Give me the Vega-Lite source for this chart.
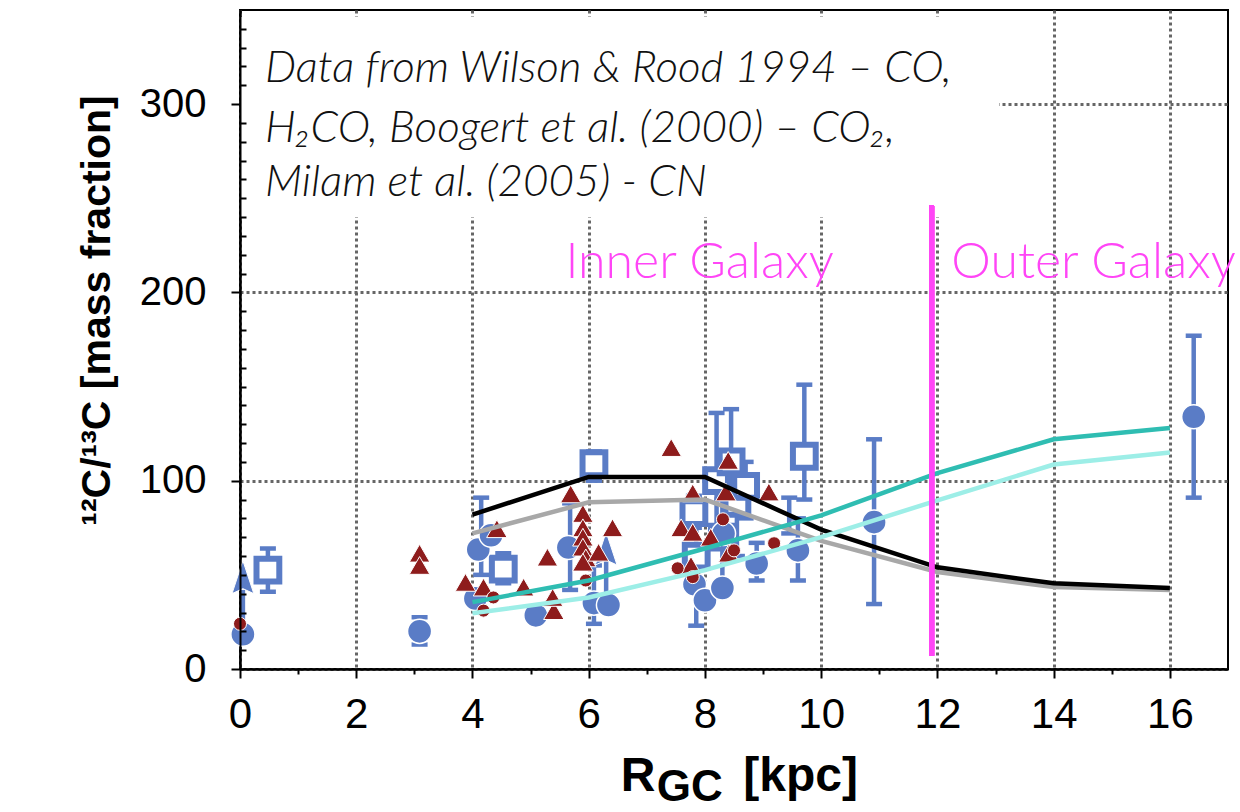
{
  "$schema": "https://vega.github.io/schema/vega-lite/v6.json",
  "width": 988,
  "height": 659,
  "autosize": "none",
  "padding": {"left": 240, "top": 10, "right": 12, "bottom": 143},
  "background": "white",
  "config": {"view": {"stroke": "#000", "strokeWidth": 2}},
  "datasets": {
    "circles": [
      {"x": 0.05, "y": 18.5}, {"x": 3.09, "y": 20}, {"x": 4.1, "y": 63.5}, {"x": 4.05, "y": 37.5},
      {"x": 4.32, "y": 71}, {"x": 5.09, "y": 28.5}, {"x": 5.65, "y": 64.5}, {"x": 6.09, "y": 35},
      {"x": 6.34, "y": 34}, {"x": 7.82, "y": 45}, {"x": 8.0, "y": 36.5}, {"x": 8.3, "y": 43},
      {"x": 8.32, "y": 72}, {"x": 8.89, "y": 56}, {"x": 9.6, "y": 63}, {"x": 10.91, "y": 78},
      {"x": 16.41, "y": 134}
    ],
    "squares": [
      {"x": 0.48, "y": 52.5}, {"x": 4.53, "y": 53}, {"x": 6.09, "y": 109}, {"x": 7.81, "y": 83},
      {"x": 7.85, "y": 60}, {"x": 8.2, "y": 100}, {"x": 8.45, "y": 110}, {"x": 8.55, "y": 88},
      {"x": 8.7, "y": 97}, {"x": 8.3, "y": 70}, {"x": 9.71, "y": 113}
    ],
    "errors": [
      {"x": 0.48, "lo": 41, "hi": 64}, {"x": 4.53, "lo": 45.5, "hi": 61.5}, {"x": 6.09, "lo": 100, "hi": 115.5},
      {"x": 7.81, "lo": 75, "hi": 92}, {"x": 7.85, "lo": 23, "hi": 80}, {"x": 8.2, "lo": 75, "hi": 136},
      {"x": 8.45, "lo": 85, "hi": 138}, {"x": 8.55, "lo": 60, "hi": 105}, {"x": 8.7, "lo": 80, "hi": 110},
      {"x": 8.3, "lo": 45, "hi": 90}, {"x": 9.71, "lo": 90, "hi": 151},
      {"x": 3.09, "lo": 13, "hi": 27.5}, {"x": 4.15, "lo": 50, "hi": 91}, {"x": 5.68, "lo": 42, "hi": 88},
      {"x": 6.09, "lo": 24, "hi": 55}, {"x": 8.89, "lo": 47, "hi": 67}, {"x": 9.45, "lo": 72, "hi": 91},
      {"x": 9.6, "lo": 47, "hi": 80}, {"x": 10.91, "lo": 34.5, "hi": 122}, {"x": 16.41, "lo": 91, "hi": 177}
    ],
    "arrows": [
      {"x": 0.05, "y": 48.8, "lo": 24, "hi": 42}, {"x": 6.3, "y": 64, "lo": 40, "hi": 58}
    ],
    "triangles": [
      {"x": 3.09, "y": 61.5}, {"x": 3.09, "y": 55}, {"x": 3.88, "y": 46}, {"x": 4.19, "y": 43.5},
      {"x": 4.42, "y": 74.5}, {"x": 4.88, "y": 43.5}, {"x": 5.29, "y": 59.4}, {"x": 5.4, "y": 31},
      {"x": 5.38, "y": 38}, {"x": 5.69, "y": 93}, {"x": 5.9, "y": 82.6}, {"x": 5.9, "y": 75},
      {"x": 5.9, "y": 70}, {"x": 5.9, "y": 64.7}, {"x": 5.95, "y": 59}, {"x": 5.9, "y": 56.7},
      {"x": 6.17, "y": 62}, {"x": 6.41, "y": 75}, {"x": 7.42, "y": 117.6}, {"x": 7.59, "y": 75},
      {"x": 7.79, "y": 72.6}, {"x": 8.1, "y": 70}, {"x": 8.41, "y": 61.5}, {"x": 7.76, "y": 55},
      {"x": 7.79, "y": 93.5}, {"x": 8.4, "y": 110.8}, {"x": 8.36, "y": 94}, {"x": 9.1, "y": 94}
    ],
    "dots": [
      {"x": 0.0, "y": 24}, {"x": 4.19, "y": 31}, {"x": 4.36, "y": 38}, {"x": 5.95, "y": 47},
      {"x": 7.53, "y": 53.5}, {"x": 7.79, "y": 48.8}, {"x": 8.31, "y": 79.5}, {"x": 8.5, "y": 63},
      {"x": 9.19, "y": 66.8}
    ],
    "models": [
      {"m": "grey", "x": 4, "y": 72}, {"m": "grey", "x": 6, "y": 88.5}, {"m": "grey", "x": 8, "y": 90},
      {"m": "grey", "x": 10, "y": 68}, {"m": "grey", "x": 12, "y": 51.5}, {"m": "grey", "x": 14, "y": 43.5},
      {"m": "grey", "x": 16, "y": 42},
      {"m": "black", "x": 4, "y": 82}, {"m": "black", "x": 6, "y": 102}, {"m": "black", "x": 8, "y": 102},
      {"m": "black", "x": 10, "y": 74}, {"m": "black", "x": 12, "y": 54}, {"m": "black", "x": 14, "y": 45.5},
      {"m": "black", "x": 16, "y": 43},
      {"m": "teal", "x": 4, "y": 35.5}, {"m": "teal", "x": 6, "y": 47}, {"m": "teal", "x": 8, "y": 64},
      {"m": "teal", "x": 10, "y": 81.6}, {"m": "teal", "x": 12, "y": 104}, {"m": "teal", "x": 14, "y": 122},
      {"m": "teal", "x": 16, "y": 128},
      {"m": "cyan", "x": 4, "y": 29.6}, {"m": "cyan", "x": 6, "y": 38}, {"m": "cyan", "x": 8, "y": 52.5},
      {"m": "cyan", "x": 10, "y": 70}, {"m": "cyan", "x": 12, "y": 89.6}, {"m": "cyan", "x": 14, "y": 108.6},
      {"m": "cyan", "x": 16, "y": 115}
    ],
    "notes": [
      {"t": "Data from Wilson & Rood 1994 – CO,", "x": 0.43, "y": 312},
      {"t": "H₂CO, Boogert et al. (2000) – CO₂,", "x": 0.43, "y": 280},
      {"t": "Milam et al. (2005) - CN", "x": 0.43, "y": 251}
    ],
    "regions": [
      {"t": "Inner Galaxy", "x": 5.6, "y": 207.5},
      {"t": "Outer Galaxy", "x": 12.24, "y": 207.5}
    ],
    "xtitle": [
      {"t": "R", "x": 6.55, "y": -65, "s": "big"},
      {"t": "GC", "x": 7.17, "y": -70, "s": "small"},
      {"t": "[kpc]", "x": 8.66, "y": -65, "s": "big"}
    ]
  },
  "resolve": {"axis": {"x": "independent", "y": "independent"}},
  "layer": [
    {
      "layer": [
        {
          "data": {"name": "circles"},
          "mark": {"type": "rect", "fill": "white", "stroke": null},
          "encoding": {
            "x": {"datum": 0.02, "type": "quantitative", "scale": {"domain": [0, 17], "nice": false, "zero": false}},
            "x2": {"datum": 13.05},
            "y": {"datum": 240, "type": "quantitative", "scale": {"domain": [0, 350], "nice": false, "zero": false}},
            "y2": {"datum": 346}
          }
        },
        {
          "data": {"name": "errors"},
          "mark": {"type": "rule", "color": "#5a7cc6", "strokeWidth": 4.5},
          "encoding": {
            "x": {"field": "x", "type": "quantitative"},
            "y": {"field": "lo", "type": "quantitative"},
            "y2": {"field": "hi"}
          }
        },
        {
          "data": {"name": "errors"},
          "mark": {"type": "tick", "orient": "horizontal", "color": "#5a7cc6", "size": 16, "thickness": 4.5, "opacity": 1},
          "encoding": {
            "x": {"field": "x", "type": "quantitative"},
            "y": {"field": "lo", "type": "quantitative"}
          }
        },
        {
          "data": {"name": "errors"},
          "mark": {"type": "tick", "orient": "horizontal", "color": "#5a7cc6", "size": 16, "thickness": 4.5, "opacity": 1},
          "encoding": {
            "x": {"field": "x", "type": "quantitative"},
            "y": {"field": "hi", "type": "quantitative"}
          }
        },
        {
          "data": {"name": "arrows"},
          "mark": {"type": "rule", "color": "#5a7cc6", "strokeWidth": 4.5},
          "encoding": {
            "x": {"field": "x", "type": "quantitative"},
            "y": {"field": "lo", "type": "quantitative"},
            "y2": {"field": "hi"}
          }
        },
        {
          "data": {"name": "arrows"},
          "mark": {"type": "point", "shape": "M0,-1L0.66,1L0,0.7L-0.66,1Z", "filled": true, "fill": "#5a7cc6", "stroke": "white", "strokeWidth": 1, "size": 1089, "opacity": 1},
          "encoding": {
            "x": {"field": "x", "type": "quantitative"},
            "y": {"field": "y", "type": "quantitative"}
          }
        },
        {
          "data": {"name": "squares"},
          "mark": {"type": "point", "shape": "square", "filled": false, "fill": "white", "stroke": "#5a7cc6", "strokeWidth": 6, "size": 520, "opacity": 1},
          "encoding": {
            "x": {"field": "x", "type": "quantitative"},
            "y": {"field": "y", "type": "quantitative"}
          }
        },
        {
          "data": {"name": "circles"},
          "mark": {"type": "point", "shape": "circle", "filled": true, "fill": "#5a7cc6", "stroke": "white", "strokeWidth": 1.5, "size": 580, "opacity": 1},
          "encoding": {
            "x": {"field": "x", "type": "quantitative",
              "axis": {"values": [0, 2, 4, 6, 8, 10, 12, 14, 16], "title": null, "grid": true, "gridColor": "#666666", "gridDash": [3, 3], "gridWidth": 3, "gridOpacity": 1, "domain": true, "domainColor": "#000", "domainWidth": 2, "ticks": true, "tickColor": "#000", "tickWidth": 2, "tickSize": 9, "labelFont": "Liberation Sans", "labelFontSize": 42, "labelColor": "#000", "labelPadding": 16, "labelFlush": false, "labelOverlap": false, "format": "d"}},
            "y": {"field": "y", "type": "quantitative",
              "axis": {"values": [0, 100, 200, 300], "title": "¹²C/¹³C [mass fraction]", "titleFont": "Liberation Sans", "titleFontWeight": "bold", "titleFontSize": 41, "titleColor": "#000", "titleAngle": -90, "titleX": -143, "titleY": 300, "titleAlign": "center", "titleBaseline": "middle", "grid": true, "gridColor": "#666666", "gridDash": [3, 3], "gridWidth": 3, "gridOpacity": 1, "domain": true, "domainColor": "#000", "domainWidth": 2, "ticks": true, "tickColor": "#000", "tickWidth": 2, "tickSize": 9, "labelFont": "Liberation Sans", "labelFontSize": 40, "labelColor": "#000", "labelPadding": 25, "labelOverlap": false, "labelFlush": false, "format": "d"}}
          }
        },
        {
          "data": {"name": "triangles"},
          "mark": {"type": "point", "shape": "triangle-up", "filled": true, "fill": "#8e1c1c", "stroke": "white", "strokeWidth": 1, "size": 420, "opacity": 1},
          "encoding": {
            "x": {"field": "x", "type": "quantitative"},
            "y": {"field": "y", "type": "quantitative"}
          }
        },
        {
          "data": {"name": "dots"},
          "mark": {"type": "point", "shape": "circle", "filled": true, "fill": "#8e1c1c", "stroke": "white", "strokeWidth": 1, "size": 170, "opacity": 1},
          "encoding": {
            "x": {"field": "x", "type": "quantitative"},
            "y": {"field": "y", "type": "quantitative"}
          }
        },
        {
          "data": {"name": "models"},
          "mark": {"type": "line", "strokeWidth": 4.5},
          "encoding": {
            "x": {"field": "x", "type": "quantitative"},
            "y": {"field": "y", "type": "quantitative"},
            "color": {"field": "m", "type": "nominal", "scale": {"domain": ["grey", "black", "cyan", "teal"], "range": ["#a8a8a8", "#000000", "#9deee7", "#2fbdb2"]}, "legend": null}
          }
        },
        {
          "data": {"name": "circles"},
          "mark": {"type": "rule", "color": "#ff45f6", "strokeWidth": 5},
          "encoding": {
            "x": {"datum": 11.9, "type": "quantitative"},
            "y": {"datum": 7, "type": "quantitative"},
            "y2": {"datum": 246}
          }
        },
        {
          "data": {"name": "notes"},
          "mark": {"type": "text", "align": "left", "baseline": "alphabetic", "font": "Lato", "fontStyle": "italic", "fontWeight": 300, "fontSize": 44, "color": "#111"},
          "encoding": {
            "x": {"field": "x", "type": "quantitative"},
            "y": {"field": "y", "type": "quantitative"},
            "text": {"field": "t"}
          }
        },
        {
          "data": {"name": "regions"},
          "mark": {"type": "text", "align": "left", "baseline": "alphabetic", "font": "Lato", "fontWeight": 300, "fontSize": 50, "color": "#ff45f6"},
          "encoding": {
            "x": {"field": "x", "type": "quantitative"},
            "y": {"field": "y", "type": "quantitative"},
            "text": {"field": "t"}
          }
        },
        {
          "data": {"name": "xtitle"},
          "mark": {"type": "text", "align": "left", "baseline": "alphabetic", "font": "Liberation Sans", "fontWeight": "bold", "color": "#000"},
          "encoding": {
            "x": {"field": "x", "type": "quantitative"},
            "y": {"field": "y", "type": "quantitative"},
            "text": {"field": "t"},
            "size": {"field": "s", "type": "nominal", "scale": {"domain": ["big", "small"], "range": [48, 44]}, "legend": null}
          }
        }
      ]
    },
    {
      "data": {"name": "models"},
      "mark": {"type": "point", "opacity": 0},
      "encoding": {
        "x": {"field": "x", "type": "quantitative",
          "axis": {"orient": "bottom", "values": [1, 3, 5, 7, 9, 11, 13, 15], "title": null, "labels": false, "grid": false, "domain": true, "domainColor": "#000", "domainWidth": 2, "tickColor": "#000", "tickWidth": 2, "tickSize": 5, "zindex": 1}},
        "y": {"field": "y", "type": "quantitative",
          "axis": {"orient": "left", "values": [10, 20, 30, 40, 50, 60, 70, 80, 90, 110, 120, 130, 140, 150, 160, 170, 180, 190, 210, 220, 230, 240, 250, 260, 270, 280, 290, 310, 320, 330, 340], "title": null, "labels": false, "grid": false, "domain": true, "domainColor": "#000", "domainWidth": 2, "tickColor": "#000", "tickWidth": 2, "tickSize": -6, "zindex": 1}}
      }
    }
  ]
}
